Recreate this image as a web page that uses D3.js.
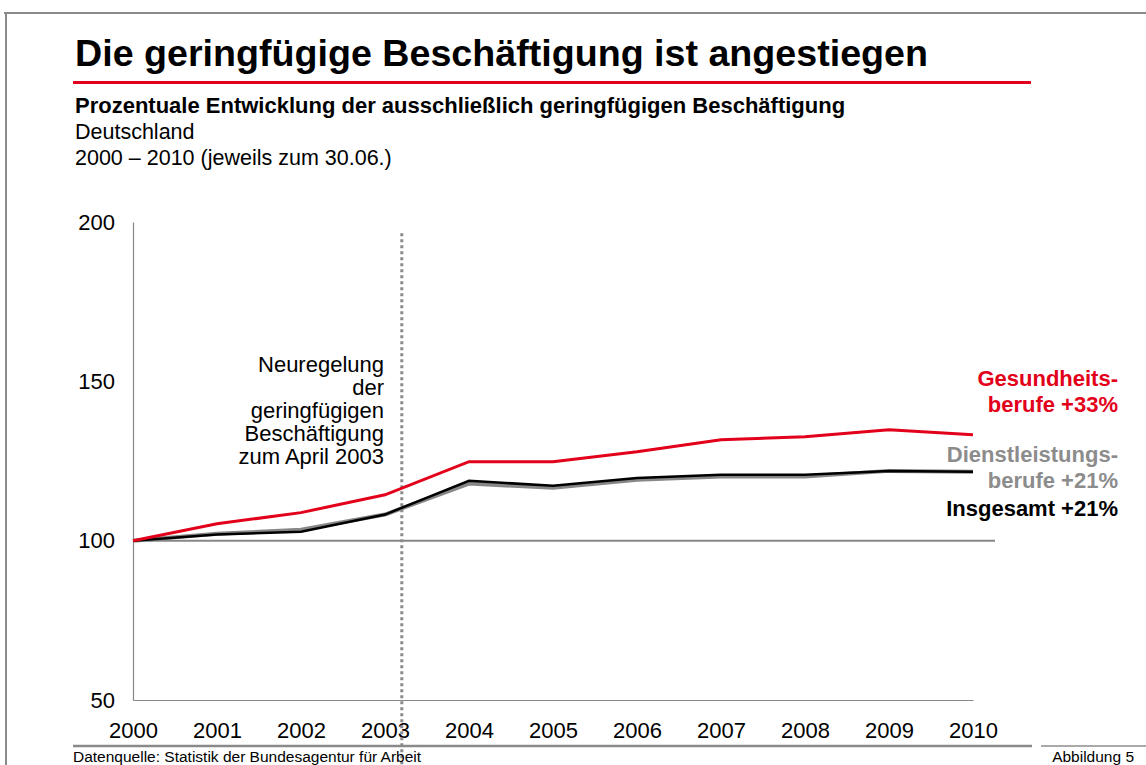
<!DOCTYPE html>
<html>
<head>
<meta charset="utf-8">
<script src="https://cdn.jsdelivr.net/npm/d3@7"></script>
<style>
  body { margin: 0; background: #fff; }
  svg { display: block; font-family: "Liberation Sans", Arial, sans-serif; }
</style>
</head>
<body>
<div id="chart"></div>
<script>
// DATA
const years = [2000, 2001, 2002, 2003, 2004, 2005, 2006, 2007, 2008, 2009, 2010];
const gesundheit = [100, 105.3, 108.8, 114.4, 124.8, 124.8, 127.9, 131.7, 132.6, 134.8, 133.2];
const dienstleistung = [100, 102.2, 103.4, 108.2, 117.9, 116.6, 119.1, 120.1, 120.1, 121.9, 121.6];
const insgesamt = [100, 101.9, 102.8, 108.2, 118.8, 117.2, 119.7, 120.7, 120.7, 121.9, 121.6];
const yTicks = [50, 100, 150, 200];
const reformDate = 2003.2;

const W = 1146, H = 765;
const red = "#e2001a", grey = "#878787";
const font = "Liberation Sans, Arial, sans-serif";

const svg = d3.select("#chart").append("svg")
  .attr("width", W).attr("height", H);

// FRAME
svg.append("line").attr("x1", 4).attr("x2", W).attr("y1", 13).attr("y2", 13)
  .attr("stroke", "#8a8a8a").attr("stroke-width", 2);
svg.append("line").attr("x1", 6).attr("x2", 6).attr("y1", 13).attr("y2", H)
  .attr("stroke", "#8a8a8a").attr("stroke-width", 2);

// TITLE
svg.append("text").attr("x", 75).attr("y", 66)
  .attr("font-size", 36).attr("font-weight", "bold")
  .attr("textLength", 853).attr("lengthAdjust", "spacingAndGlyphs")
  .text("Die geringfügige Beschäftigung ist angestiegen");
svg.append("line").attr("x1", 73).attr("x2", 1031).attr("y1", 82.5).attr("y2", 82.5)
  .attr("stroke", red).attr("stroke-width", 3);

svg.append("text").attr("x", 75).attr("y", 113)
  .attr("font-size", 22).attr("font-weight", "bold")
  .text("Prozentuale Entwicklung der ausschließlich geringfügigen Beschäftigung");
svg.append("text").attr("x", 75).attr("y", 139).attr("font-size", 21.5).text("Deutschland");
svg.append("text").attr("x", 75).attr("y", 165).attr("font-size", 21.5)
  .text("2000 – 2010 (jeweils zum 30.06.)");

// SCALES
const x = d3.scaleLinear().domain([2000, 2010]).range([133, 973]);
const y = d3.scaleLinear().domain([50, 200]).range([700, 222]);

// Y AXIS
const yAxis = svg.append("g").attr("transform", `translate(${x(2000)},0)`)
  .call(d3.axisLeft(y).tickValues(yTicks).tickSize(0).tickSizeOuter(0).tickPadding(18));
yAxis.select(".domain").attr("stroke", grey).attr("stroke-width", 1.2);
yAxis.selectAll("text").attr("font-size", 22).attr("fill", "#000").attr("font-family", font);

// X AXIS
const xAxis = svg.append("g").attr("transform", `translate(0,${y(50)})`)
  .call(d3.axisBottom(x).tickValues(years).tickFormat(d3.format("d"))
    .tickSize(0).tickSizeOuter(0).tickPadding(22));
xAxis.select(".domain").attr("stroke", grey).attr("stroke-width", 1.2);
xAxis.selectAll("text").attr("font-size", 22).attr("fill", "#000").attr("font-family", font);

// 100 REFERENCE LINE
svg.append("line")
  .attr("x1", x(2000)).attr("x2", x(2010) + 22)
  .attr("y1", y(100)).attr("y2", y(100))
  .attr("stroke", grey).attr("stroke-width", 2);

// REFORM MARKER
svg.append("line")
  .attr("x1", x(reformDate)).attr("x2", x(reformDate))
  .attr("y1", y(196.5)).attr("y2", H)
  .attr("stroke", "#8a8a8a").attr("stroke-width", 3)
  .attr("stroke-dasharray", "3,3");

const note = ["Neuregelung", "der", "geringfügigen", "Beschäftigung", "zum April 2003"];
svg.append("text").attr("text-anchor", "end").attr("font-size", 22)
  .selectAll("tspan").data(note).join("tspan")
  .attr("x", 384).attr("y", (d, i) => 372 + i * 23)
  .text(d => d);

// LINES
const line = d3.line().x((d, i) => x(years[i])).y(d => y(d));

svg.append("path").datum(dienstleistung).attr("d", line)
  .attr("fill", "none").attr("stroke", grey).attr("stroke-width", 4);
svg.append("path").datum(insgesamt).attr("d", line)
  .attr("fill", "none").attr("stroke", "#000").attr("stroke-width", 2.5);
svg.append("path").datum(gesundheit).attr("d", line)
  .attr("fill", "none").attr("stroke", red).attr("stroke-width", 3);

// LABELS
const labels = [
  { t: "Gesundheits-", y: 386, c: red },
  { t: "berufe +33%", y: 412, c: red },
  { t: "Dienstleistungs-", y: 462, c: "#8c8c8c" },
  { t: "berufe +21%", y: 488, c: "#8c8c8c" },
  { t: "Insgesamt +21%", y: 516, c: "#000" }
];
svg.append("g").selectAll("text").data(labels).join("text")
  .attr("x", 1118).attr("y", d => d.y)
  .attr("text-anchor", "end").attr("font-size", 22).attr("font-weight", "bold")
  .attr("fill", d => d.c).text(d => d.t);

// FOOTER
svg.append("line").attr("x1", 73).attr("x2", 1032).attr("y1", 746).attr("y2", 746)
  .attr("stroke", "#8a8a8a").attr("stroke-width", 2.5);
svg.append("line").attr("x1", 1041).attr("x2", W).attr("y1", 746).attr("y2", 746)
  .attr("stroke", "#555").attr("stroke-width", 1);
svg.append("text").attr("x", 73).attr("y", 762).attr("font-size", 15.5)
  .text("Datenquelle: Statistik der Bundesagentur für Arbeit");
svg.append("text").attr("x", 1134).attr("y", 762).attr("font-size", 15.5)
  .attr("text-anchor", "end").text("Abbildung 5");
</script>
</body>
</html>
